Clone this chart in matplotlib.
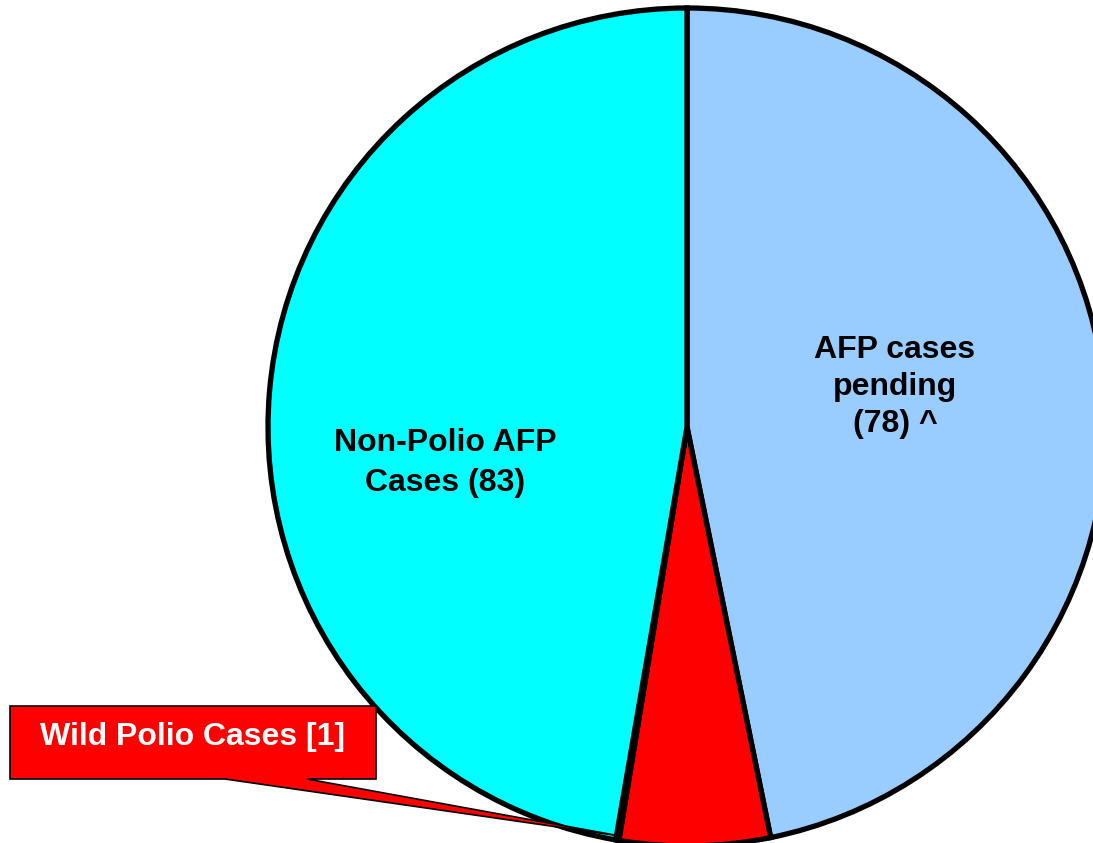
import matplotlib.pyplot as plt
from matplotlib.patches import Polygon

# slice sizes (share of the circle, %), clockwise from 12 o'clock
slice_names = ['AFP cases pending', 'Other', 'Wild Polio Cases', 'Non-Polio AFP Cases']
slice_sizes = [46.8, 5.8, 0.12, 47.28]
slice_colors = ['#99CCFF', '#FF0000', '#FF0000', '#00FFFF']

label_pending = 'AFP cases\npending\n(78) ^'
label_nonpolio = 'Non-Polio AFP\nCases (83)'
label_wild = 'Wild Polio Cases [1]'

W, H = 1093, 843
fig = plt.figure(figsize=(W / 100, H / 100), dpi=100)
ax = fig.add_axes([0, 0, 1, 1])

ax.pie(slice_sizes, colors=slice_colors, startangle=90, counterclock=False,
       center=(687, H - 427), radius=419,
       wedgeprops=dict(edgecolor='black', linewidth=3.8, joinstyle='miter'),
       frame=True)
ax.set_xlim(0, W)
ax.set_ylim(0, H)
ax.set_aspect('equal')
ax.axis('off')

font = dict(family=['Liberation Sans', 'DejaVu Sans'], fontweight='bold', fontsize=23)
ax.text(895, H - 387, label_pending, ha='center', va='center',
        linespacing=1.32, **font)
ax.text(445, H - 463, label_nonpolio, ha='center', va='center',
        linespacing=1.4, **font)

# callout box with pointer to the wild polio slice
callout = [(10, 706), (376, 706), (376, 779), (307, 779), (620, 836),
           (225, 779), (10, 779)]
ax.add_patch(Polygon([(x, H - y) for x, y in callout], closed=True,
                     facecolor='#FF0000', edgecolor='black', linewidth=1.2,
                     zorder=5))
ax.text(193, H - 737, label_wild, ha='center', va='center', color='white',
        zorder=6, **font)

fig.savefig('out.png', dpi=100, facecolor='white')
